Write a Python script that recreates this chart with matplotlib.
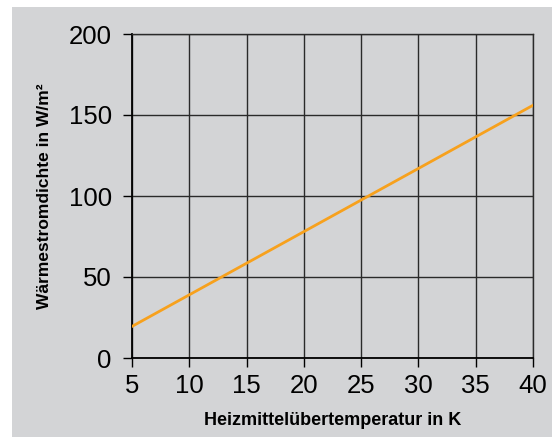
#!/usr/bin/env python3
"""Wärmestromdichte vs. Heizmittelübertemperatur."""

import matplotlib.pyplot as plt
from matplotlib.patches import Rectangle

plt.rcParams["font.family"] = ["Liberation Sans", "DejaVu Sans"]

temps = [5, 10, 15, 20, 25, 30, 35, 40]
flux = [19.5, 39, 58.5, 78, 97.5, 117, 136.5, 156]
x_ticks = [5, 10, 15, 20, 25, 30, 35, 40]
y_ticks = [0, 50, 100, 150, 200]

BG = "#d3d4d6"

fig = plt.figure(figsize=(5.52, 4.37), dpi=100, facecolor="white")
fig.patches.append(Rectangle((12 / 552, 0), 1, 1 - 7 / 437,
                             transform=fig.transFigure, facecolor=BG,
                             edgecolor="none", zorder=-10))
ax = fig.add_axes([132 / 552, 1 - 358 / 437, 401 / 552, 324 / 437])
ax.set_facecolor(BG)

ax.plot(temps, flux, color="#f7a11d", linewidth=2.0, zorder=3)

ax.set_xlim(5, 40)
ax.set_ylim(0, 200)
ax.set_xticks(x_ticks)
ax.set_yticks(y_ticks)
ax.grid(True, color="#2a2a2a", linewidth=1.0)
for s in ["top", "right"]:
    ax.spines[s].set_color("#2a2a2a")
    ax.spines[s].set_linewidth(1.0)
for s in ["left", "bottom"]:
    ax.spines[s].set_color("black")
    ax.spines[s].set_linewidth(1.3)

ax.tick_params(axis="both", direction="out", length=6.5, width=1.0,
               labelsize=18.5, color="black")
ax.tick_params(axis="y", pad=8)
ax.tick_params(axis="x", pad=5)

ax.set_xlabel("Heizmittelübertemperatur in K", fontsize=13, fontweight="bold",
              labelpad=10)
ax.set_ylabel("Wärmestromdichte in W/m²", fontsize=12.5, fontweight="bold",
              labelpad=12)

fig.savefig("out.png", dpi=100, facecolor=fig.get_facecolor())
